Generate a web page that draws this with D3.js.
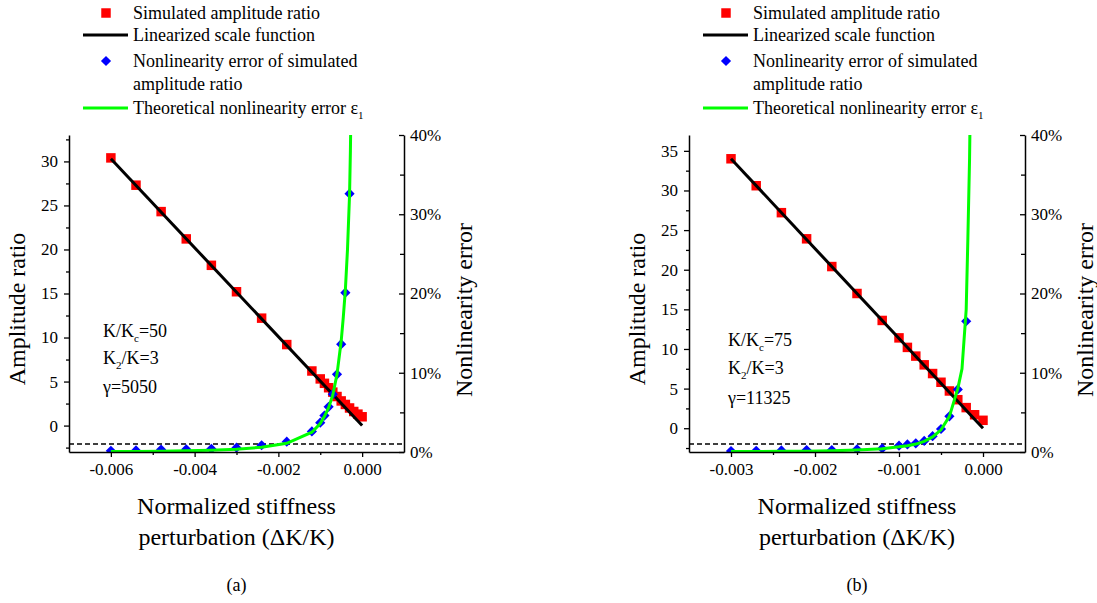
<!DOCTYPE html>
<html>
<head>
<meta charset="utf-8">
<script src="https://cdn.jsdelivr.net/npm/d3@7"></script>
<style>
  body { margin: 0; background: #fff; }
</style>
</head>
<body>
<div id="chart"></div>
<script>
// ---- panel (a) data, K/Kc=50, gamma=5050 ----
var a_ampX = [-0.006, -0.0054, -0.0048, -0.0042, -0.0036, -0.003, -0.0024, -0.0018, -0.0012, -0.001, -0.0009, -0.0008, -0.0007, -0.0006, -0.0005, -0.0004, -0.0003, -0.0002, -0.0001, 0];
var a_ampY = [30.4, 27.3, 24.3, 21.2, 18.2, 15.2, 12.2, 9.2, 6.2, 5.3, 4.8, 4.3, 3.8, 3.3, 2.8, 2.4, 2.0, 1.6, 1.3, 1.0];
var a_lineX = [-0.006, 0];
var a_lineY = [30.3, 0];
var a_errX = [-0.006, -0.0054, -0.0048, -0.0042, -0.0036, -0.003, -0.0024, -0.0018, -0.0012, -0.001, -0.0009, -0.0008, -0.0007, -0.0006, -0.0005, -0.0004, -0.0003];
var a_errY = [0.15, 0.2, 0.3, 0.35, 0.4, 0.55, 0.85, 1.3, 2.6, 3.7, 4.6, 5.7, 7.3, 9.8, 13.6, 20.1, 32.6];   // %
var a_theoX = [-0.006, -0.0054, -0.0048, -0.0042, -0.0036, -0.003, -0.0024, -0.0018, -0.0012, -0.001, -0.0009, -0.0008, -0.0007, -0.0006, -0.0005, -0.00045, -0.0004, -0.00035, -0.0003, -0.00028, -0.00027];
var a_theoY = [0.05, 0.07, 0.1, 0.15, 0.22, 0.35, 0.6, 1.1, 2.5, 3.6, 4.5, 5.6, 7.2, 9.8, 14, 17, 20.5, 25.5, 32.5, 38, 42];

// ---- panel (b) data, K/Kc=75, gamma=11325 ----
var b_ampX = [-0.003, -0.0027, -0.0024, -0.0021, -0.0018, -0.0015, -0.0012, -0.001, -0.0009, -0.0008, -0.0007, -0.0006, -0.0005, -0.0004, -0.0003, -0.0002, -0.0001, 0];
var b_ampY = [34.0, 30.6, 27.2, 23.9, 20.4, 17.0, 13.6, 11.4, 10.2, 9.1, 8.0, 6.9, 5.8, 4.7, 3.6, 2.6, 1.7, 1.0];
var b_lineX = [-0.003, 0];
var b_lineY = [34.0, 0];
var b_errX = [-0.003, -0.0027, -0.0024, -0.0021, -0.0018, -0.0015, -0.0012, -0.001, -0.0009, -0.0008, -0.0007, -0.0006, -0.0005, -0.0004, -0.0003, -0.0002];
var b_errY = [0.12, 0.16, 0.2, 0.25, 0.25, 0.35, 0.45, 0.8, 0.95, 1.1, 1.4, 2.0, 2.9, 4.5, 7.9, 16.5];   // %
var b_theoX = [-0.003, -0.0027, -0.0024, -0.0021, -0.0018, -0.0015, -0.0012, -0.001, -0.0009, -0.0008, -0.0007, -0.0006, -0.0005, -0.0004, -0.0003, -0.00025, -0.0002, -0.00018, -0.00016, -0.00015];
var b_theoY = [0.05, 0.06, 0.08, 0.1, 0.15, 0.25, 0.4, 0.65, 0.8, 1.0, 1.35, 1.9, 2.8, 4.5, 8.0, 10.5, 18, 27, 37, 45];

// ---- ticks ----
var a_xMajor = [-0.006, -0.004, -0.002, 0];
var a_xMinor = [-0.005, -0.003, -0.001];
var b_xMajor = [-0.003, -0.002, -0.001, 0];
var b_xMinor = [-0.0025, -0.0015, -0.0005];
var a_yMajor = [0, 5, 10, 15, 20, 25, 30];
var a_yMinor = [-2.5, 2.5, 7.5, 12.5, 17.5, 22.5, 27.5, 32.5];
var b_yMajor = [0, 5, 10, 15, 20, 25, 30, 35];
var b_yMinor = [-2.5, 2.5, 7.5, 12.5, 17.5, 22.5, 27.5, 32.5];
var errMajor = [0, 10, 20, 30, 40];
var errMinor = [5, 15, 25, 35];
var errLimit = 1;   // dashed line, %

var legendItems = ["Simulated amplitude ratio", "Linearized scale function", "Nonlinearity error of simulated", "Theoretical nonlinearity error \u03b5"];

var zip = function(xs, ys) { return xs.map(function(x, i) { return [x, ys[i]]; }); };

var panels = [
  { id: "a", left: 69, right: 404, xDom: [-0.007, 0.001], yDom: [-3, 33],
    amp: zip(a_ampX, a_ampY), lin: zip(a_lineX, a_lineY), err: zip(a_errX, a_errY), theo: zip(a_theoX, a_theoY),
    xMajor: a_xMajor, xMinor: a_xMinor, yMajor: a_yMajor, yMinor: a_yMinor,
    note: [["K/K", "c", "=50"], ["K", "2", "/K=3"], ["\u03b3=5050", "", ""]], noteX: 103, noteY: [337, 364, 393] },
  { id: "b", left: 689, right: 1025, xDom: [-0.0035, 0.0005], yDom: [-3, 37],
    amp: zip(b_ampX, b_ampY), lin: zip(b_lineX, b_lineY), err: zip(b_errX, b_errY), theo: zip(b_theoX, b_theoY),
    xMajor: b_xMajor, xMinor: b_xMinor, yMajor: b_yMajor, yMinor: b_yMinor,
    note: [["K/K", "c", "=75"], ["K", "2", "/K=3"], ["\u03b3=11325", "", ""]], noteX: 728, noteY: [346, 374, 404] }
];

var plotTop = 135, plotBottom = 452;
var serif = "'Liberation Serif', 'Times New Roman', Times, serif";
var squareSym = d3.symbol(d3.symbolSquare, 90);
var diamondSym = d3.symbol(d3.symbolSquare, 52);

var svg = d3.select("#chart").append("svg")
    .attr("width", 1097)
    .attr("height", 603)
    .attr("font-family", serif);

panels.forEach(function(p) {
  var x = d3.scaleLinear().domain(p.xDom).range([p.left, p.right]);
  var y = d3.scaleLinear().domain(p.yDom).range([plotBottom, plotTop]);
  var yR = d3.scaleLinear().domain([0, 40]).range([plotBottom, plotTop]);
  var g = svg.append("g");

  g.append("defs").append("clipPath").attr("id", "clip" + p.id)
    .append("rect").attr("x", p.left).attr("y", plotTop)
    .attr("width", p.right - p.left).attr("height", plotBottom - plotTop);

  var plot = g.append("g").attr("clip-path", "url(#clip" + p.id + ")");

  // dashed 1% line
  plot.append("line")
    .attr("x1", p.left).attr("x2", p.right)
    .attr("y1", yR(errLimit)).attr("y2", yR(errLimit))
    .attr("stroke", "#000").attr("stroke-width", 1.5)
    .attr("stroke-dasharray", "5,3");

  // simulated amplitude ratio
  plot.selectAll(".amp").data(p.amp).enter().append("path")
    .attr("class", "amp")
    .attr("transform", function(d) { return "translate(" + x(d[0]) + "," + y(d[1]) + ")"; })
    .attr("d", squareSym)
    .attr("fill", "#ff0000");

  // linearized scale function
  plot.append("path").datum(p.lin)
    .attr("d", d3.line().x(function(d) { return x(d[0]); }).y(function(d) { return y(d[1]); }))
    .attr("fill", "none").attr("stroke", "#000").attr("stroke-width", 3);

  // nonlinearity error of simulated ratio
  plot.selectAll(".err").data(p.err).enter().append("path")
    .attr("class", "err")
    .attr("transform", function(d) { return "translate(" + x(d[0]) + "," + yR(d[1]) + ") rotate(45)"; })
    .attr("d", diamondSym)
    .attr("fill", "#0000ff");

  // theoretical error
  plot.append("path").datum(p.theo)
    .attr("d", d3.line().x(function(d) { return x(d[0]); }).y(function(d) { return yR(d[1]); }))
    .attr("fill", "none").attr("stroke", "#00ff00").attr("stroke-width", 3);

  // axes
  g.append("g").attr("transform", "translate(0," + plotBottom + ")")
    .call(d3.axisBottom(x).tickValues(p.xMajor).tickSize(5).tickSizeOuter(0).tickPadding(6)
      .tickFormat(function(d) { return d.toFixed(3); }));
  g.append("g").attr("class", "minor").attr("transform", "translate(0," + plotBottom + ")")
    .call(d3.axisBottom(x).tickValues(p.xMinor).tickSize(3).tickFormat(""));

  g.append("g").attr("transform", "translate(" + p.left + ",0)")
    .call(d3.axisLeft(y).tickValues(p.yMajor).tickSize(5).tickSizeOuter(0).tickPadding(6)
      .tickFormat(d3.format("d")));
  g.append("g").attr("class", "minor").attr("transform", "translate(" + p.left + ",0)")
    .call(d3.axisLeft(y).tickValues(p.yMinor).tickSize(3).tickFormat(""));

  g.append("g").attr("transform", "translate(" + p.right + ",0)")
    .call(d3.axisRight(yR).tickValues(errMajor).tickSizeInner(-5).tickSizeOuter(0).tickPadding(6)
      .tickFormat(function(d) { return d + "%"; }));
  g.append("g").attr("class", "minor").attr("transform", "translate(" + p.right + ",0)")
    .call(d3.axisRight(yR).tickValues(errMinor).tickSizeInner(-4).tickSizeOuter(0).tickFormat(""));

  g.selectAll(".minor .domain").remove();
  g.selectAll(".domain").attr("stroke", "#000").attr("stroke-width", 1.5);
  g.selectAll(".tick line").attr("stroke", "#000").attr("stroke-width", 1.3);
  g.selectAll(".tick text").attr("font-size", 17).attr("fill", "#000")
    .attr("font-family", serif);

  // axis titles
  var cx = (p.left + p.right) / 2;
  g.append("text")
    .attr("transform", "translate(" + (p.left - 44) + ",309) rotate(-90)")
    .attr("text-anchor", "middle").attr("font-size", 24).text("Amplitude ratio");
  g.append("text")
    .attr("transform", "translate(" + (p.right + 68) + ",310) rotate(-90)")
    .attr("text-anchor", "middle").attr("font-size", 24).text("Nonlinearity error");
  g.append("text").attr("x", cx).attr("y", 514)
    .attr("text-anchor", "middle").attr("font-size", 24).text("Normalized stiffness");
  g.append("text").attr("x", cx).attr("y", 545)
    .attr("text-anchor", "middle").attr("font-size", 24).text("perturbation (\u0394K/K)");
  g.append("text").attr("x", cx).attr("y", 591)
    .attr("text-anchor", "middle").attr("font-size", 18).text("(" + p.id + ")");

  // parameter notes
  p.note.forEach(function(n, i) {
    var t = g.append("text").attr("x", p.noteX).attr("y", p.noteY[i]).attr("font-size", 18);
    t.append("tspan").text(n[0]);
    if (n[1]) {
      t.append("tspan").attr("font-size", 11).attr("dy", 5).text(n[1]);
      t.append("tspan").attr("dy", -5).text(n[2]);
    }
  });

  // legend
  var lx = p.left + 37, tx = p.left + 64;
  var leg = g.append("g");
  leg.append("path").attr("transform", "translate(" + lx + ",13)")
    .attr("d", squareSym).attr("fill", "#ff0000");
  leg.append("line").attr("x1", lx - 23).attr("x2", lx + 22).attr("y1", 35).attr("y2", 35)
    .attr("stroke", "#000").attr("stroke-width", 3);
  leg.append("path").attr("transform", "translate(" + lx + ",61) rotate(45)")
    .attr("d", diamondSym).attr("fill", "#0000ff");
  leg.append("line").attr("x1", lx - 23).attr("x2", lx + 22).attr("y1", 108).attr("y2", 108)
    .attr("stroke", "#00ff00").attr("stroke-width", 3);
  var ly = [19, 41, 67, 114];
  legendItems.forEach(function(s, i) {
    var t = leg.append("text").attr("x", tx).attr("y", ly[i]).attr("font-size", 18).text(s);
    if (i === 3) t.append("tspan").attr("font-size", 11).attr("dy", 5).text("1");
  });
  leg.append("text").attr("x", tx).attr("y", 90).attr("font-size", 18).text("amplitude ratio");
});
</script>
</body>
</html>
